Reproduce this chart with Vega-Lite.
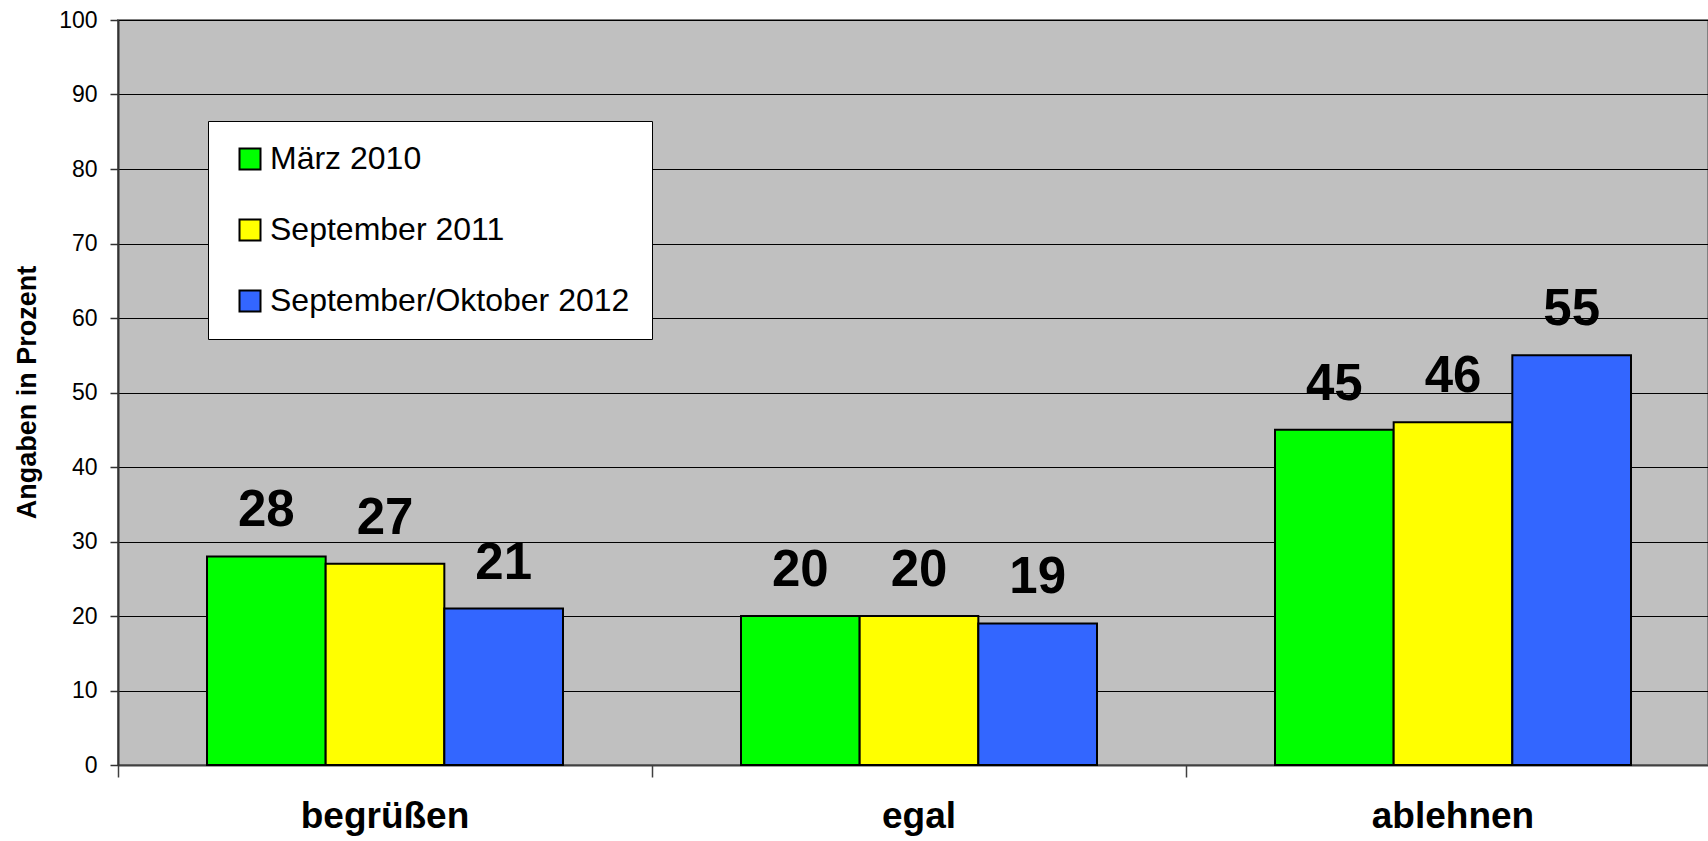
{
  "$schema": "https://vega.github.io/schema/vega-lite/v6.json",
  "autosize": {"type": "none"},
  "padding": {"left": 118, "top": 20, "right": 0, "bottom": 76},
  "width": 1590,
  "height": 745,
  "background": "white",
  "data": {
    "values": [
      {"cat": "begrüßen", "series": "März 2010", "value": 28},
      {"cat": "begrüßen", "series": "September 2011", "value": 27},
      {"cat": "begrüßen", "series": "September/Oktober 2012", "value": 21},
      {"cat": "egal", "series": "März 2010", "value": 20},
      {"cat": "egal", "series": "September 2011", "value": 20},
      {"cat": "egal", "series": "September/Oktober 2012", "value": 19},
      {"cat": "ablehnen", "series": "März 2010", "value": 45},
      {"cat": "ablehnen", "series": "September 2011", "value": 46},
      {"cat": "ablehnen", "series": "September/Oktober 2012", "value": 55}
    ]
  },
  "encoding": {
    "x": {
      "field": "cat",
      "type": "nominal",
      "sort": ["begrüßen", "egal", "ablehnen"],
      "scale": {"paddingInner": 0, "paddingOuter": 0, "range": [0, 1602]},
      "axis": {
        "title": null,
        "labelAngle": 0,
        "labelFont": "Liberation Sans",
        "labelFontSize": 37,
        "labelFontWeight": "bold",
        "labelColor": "black",
        "labelBaseline": "alphabetic",
        "labelPadding": 50,
        "tickSize": 12,
        "tickColor": "#404040",
        "tickWidth": 1.5,
        "bandPosition": 0,
        "domainColor": "#404040",
        "domainWidth": 2,
        "grid": false
      }
    },
    "xOffset": {
      "field": "series",
      "type": "nominal",
      "sort": ["März 2010", "September 2011", "September/Oktober 2012"],
      "scale": {"paddingInner": 0, "paddingOuter": 0.75}
    },
    "y": {
      "field": "value",
      "type": "quantitative",
      "scale": {"domain": [0, 100], "nice": false},
      "axis": {
        "title": "Angaben in Prozent",
        "titleFont": "Liberation Sans",
        "titleFontSize": 27,
        "titleFontWeight": "bold",
        "titleColor": "black",
        "titleAngle": -90,
        "titleBaseline": "alphabetic",
        "titleAlign": "center",
        "titleX": -83,
        "titleY": 372,
        "values": [0, 10, 20, 30, 40, 50, 60, 70, 80, 90, 100],
        "labelFont": "Liberation Sans",
        "labelFontSize": 23,
        "labelColor": "black",
        "labelPadding": 13,
        "tickSize": 8,
        "tickColor": "#333333",
        "tickWidth": 1.5,
        "domainColor": "#333333",
        "domainWidth": 2,
        "grid": true,
        "gridColor": "black",
        "gridWidth": 1.2,
        "gridOpacity": 1
      }
    }
  },
  "layer": [
    {
      "mark": {"type": "bar", "stroke": "black", "strokeWidth": 2},
      "encoding": {
        "color": {
          "field": "series",
          "type": "nominal",
          "sort": ["März 2010", "September 2011", "September/Oktober 2012"],
          "scale": {
            "domain": ["März 2010", "September 2011", "September/Oktober 2012"],
            "range": ["#00FF00", "#FFFF00", "#3366FF"]
          },
          "legend": {
            "title": null,
            "orient": "none",
            "legendX": 90,
            "legendY": 101,
            "fillColor": "white",
            "strokeColor": "black",
            "padding": 22,
            "symbolOffset": 4,
            "symbolType": "square",
            "symbolSize": 441,
            "symbolStrokeColor": "black",
            "symbolStrokeWidth": 2,
            "labelFont": "Liberation Sans",
            "labelFontSize": 32,
            "labelColor": "black",
            "labelOffset": 4,
            "labelLimit": 600,
            "rowPadding": 39
          }
        }
      }
    },
    {
      "mark": {
        "type": "text",
        "font": "Liberation Sans",
        "fontSize": 51,
        "fontWeight": "bold",
        "color": "black",
        "baseline": "alphabetic",
        "dy": -30
      },
      "encoding": {"text": {"field": "value", "type": "quantitative"}}
    }
  ],
  "config": {
    "view": {"fill": "#C0C0C0", "stroke": "#808080", "strokeWidth": 2}
  }
}
